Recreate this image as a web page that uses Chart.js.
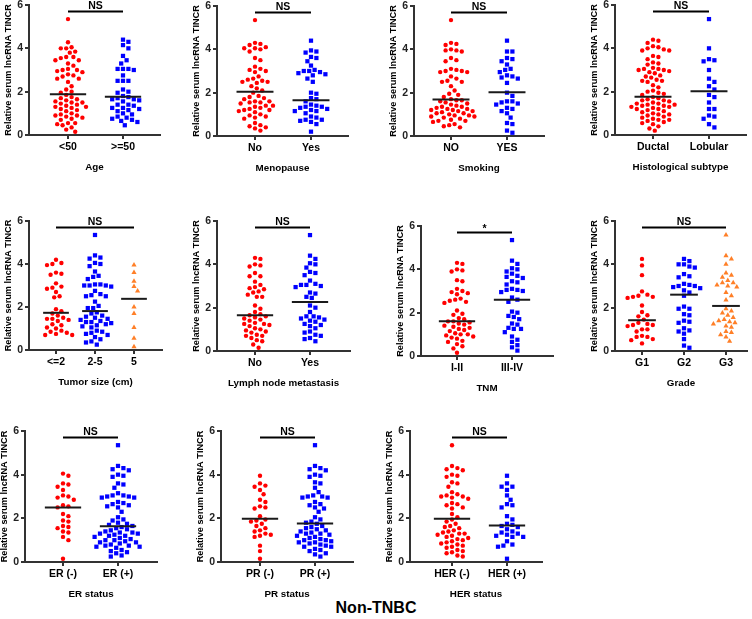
<!DOCTYPE html>
<html>
<head>
<meta charset="utf-8">
<script src="https://cdn.jsdelivr.net/npm/chart.js@4.4.0/dist/chart.umd.min.js"></script>
<style>
  html, body { margin: 0; padding: 0; background: #fff; }
  #wrap { position: relative; width: 752px; height: 619px; overflow: hidden; }
  #wrap canvas { position: absolute; }
  #title { position: absolute; left: 0; top: 599px; width: 752px; text-align: center;
           font: bold 16px "Liberation Sans", Arial, sans-serif; color: #000; }
</style>
</head>
<body>
<div id="wrap"><div id="title">Non-TNBC</div></div>
<script>
// ---- data ----
const yTicks = [0, 2, 4, 6];

const ageCats = ['<50', '>=50'];
const ageUnder50 = [5.35, 4.28, 4.05, 4.0, 4.0, 3.85, 3.8, 3.6, 3.6, 3.55, 3.45, 3.45, 3.3, 3.2, 3.05, 3.0, 3.0, 2.95, 2.9, 2.8, 2.75, 2.7, 2.6, 2.6, 2.45, 2.25, 2.1, 2.0, 1.95, 1.85, 1.75, 1.7, 1.65, 1.6, 1.55, 1.5, 1.5, 1.45, 1.4, 1.35, 1.3, 1.3, 1.25, 1.2, 1.15, 1.1, 1.0, 0.95, 0.9, 0.9, 0.85, 0.8, 0.75, 0.7, 0.55, 0.55, 0.5, 0.45, 0.35, 0.25, 0.15];
const ageOver50 = [4.4, 4.3, 4.15, 4.0, 3.65, 3.45, 3.3, 3.05, 3.05, 3.05, 3.0, 2.75, 2.5, 2.5, 2.5, 2.1, 2.0, 1.95, 1.8, 1.75, 1.7, 1.65, 1.65, 1.6, 1.55, 1.4, 1.4, 1.35, 1.25, 1.25, 1.2, 1.15, 1.1, 1.0, 0.95, 0.85, 0.8, 0.75, 0.7, 0.65, 0.6, 0.45];
const ageMeans = [1.88, 1.76];

const menoCats = ['No', 'Yes'];
const menoNo = [5.35, 4.3, 4.25, 4.2, 4.1, 4.05, 4.05, 4.0, 3.9, 3.6, 3.5, 3.2, 3.1, 3.05, 3.0, 2.95, 2.75, 2.65, 2.6, 2.55, 2.5, 2.5, 2.45, 2.3, 2.2, 2.1, 2.0, 1.85, 1.8, 1.75, 1.7, 1.6, 1.6, 1.55, 1.55, 1.5, 1.4, 1.4, 1.35, 1.3, 1.25, 1.2, 1.2, 1.15, 1.1, 1.0, 0.95, 0.9, 0.85, 0.8, 0.6, 0.5, 0.45, 0.4, 0.35, 0.25];
const menoYes = [4.4, 3.95, 3.9, 3.85, 3.65, 3.6, 3.45, 3.25, 3.05, 3.0, 3.0, 2.95, 2.9, 2.85, 2.8, 2.65, 2.5, 2.0, 1.95, 1.75, 1.7, 1.6, 1.45, 1.4, 1.35, 1.35, 1.3, 1.25, 1.2, 1.15, 1.15, 1.05, 0.9, 0.85, 0.75, 0.75, 0.7, 0.65, 0.55, 0.2];
const menoMeans = [2.04, 1.65];

const smokeCats = ['NO', 'YES'];
const smokeNo = [5.35, 4.3, 4.25, 4.2, 4.0, 3.95, 3.95, 3.9, 3.6, 3.5, 3.45, 3.1, 3.05, 3.0, 3.0, 2.95, 2.95, 2.75, 2.65, 2.55, 2.5, 2.5, 2.3, 2.1, 1.95, 1.9, 1.8, 1.7, 1.65, 1.65, 1.6, 1.55, 1.5, 1.45, 1.4, 1.35, 1.35, 1.3, 1.25, 1.25, 1.2, 1.2, 1.15, 1.15, 1.1, 1.05, 1.05, 1.0, 0.95, 0.95, 0.9, 0.9, 0.85, 0.8, 0.75, 0.7, 0.7, 0.65, 0.55, 0.5, 0.45, 0.4];
const smokeYes = [4.4, 3.9, 3.9, 3.6, 3.55, 3.45, 3.3, 3.1, 3.05, 2.95, 2.8, 2.75, 2.7, 2.65, 2.45, 2.0, 1.85, 1.6, 1.6, 1.55, 1.5, 1.45, 1.3, 1.25, 1.15, 1.05, 0.85, 0.6, 0.55, 0.25, 0.15];
const smokeMeans = [1.69, 2.02];

const histCats = ['Ductal', 'Lobular'];
const histDuctal = [4.4, 4.35, 4.25, 4.1, 4.05, 4.0, 3.95, 3.9, 3.9, 3.65, 3.6, 3.5, 3.35, 3.3, 3.25, 3.1, 3.05, 3.05, 3.0, 3.0, 2.95, 2.9, 2.85, 2.75, 2.7, 2.65, 2.55, 2.5, 2.5, 2.45, 2.3, 2.2, 2.05, 2.0, 1.95, 1.9, 1.85, 1.75, 1.7, 1.65, 1.6, 1.6, 1.55, 1.5, 1.45, 1.45, 1.4, 1.4, 1.35, 1.35, 1.3, 1.3, 1.25, 1.2, 1.2, 1.15, 1.1, 1.05, 1.0, 0.95, 0.95, 0.9, 0.85, 0.8, 0.75, 0.7, 0.7, 0.65, 0.6, 0.55, 0.5, 0.4, 0.3, 0.2];
const histLobular = [5.35, 4.0, 3.5, 3.45, 3.4, 3.0, 2.6, 2.45, 2.25, 2.1, 1.85, 1.75, 1.5, 1.2, 1.2, 0.9, 0.85, 0.75, 0.5, 0.35];
const histMeans = [1.77, 2.02];

const sizeCats = ['<=2', '2-5', '5'];
const sizeSmall = [4.2, 4.05, 4.0, 3.95, 3.6, 3.55, 3.5, 3.1, 2.95, 2.9, 2.85, 2.7, 2.5, 2.45, 1.9, 1.8, 1.7, 1.6, 1.5, 1.45, 1.45, 1.4, 1.35, 1.2, 1.15, 1.05, 1.0, 0.9, 0.85, 0.8, 0.75, 0.7, 0.7];
const sizeMid = [5.35, 4.4, 4.3, 4.25, 4.05, 4.0, 3.9, 3.65, 3.45, 3.4, 3.3, 3.05, 3.05, 3.0, 3.0, 3.0, 2.95, 2.75, 2.6, 2.55, 2.5, 2.5, 2.25, 2.05, 1.95, 1.95, 1.75, 1.7, 1.6, 1.55, 1.5, 1.45, 1.4, 1.35, 1.3, 1.3, 1.25, 1.2, 1.15, 1.1, 1.05, 0.9, 0.85, 0.8, 0.75, 0.7, 0.6, 0.5, 0.4, 0.35, 0.25];
const sizeLarge = [3.95, 3.6, 3.2, 2.95, 2.75, 2.0, 1.7, 1.05, 0.55, 0.15];
const sizeMeans = [1.73, 1.81, 2.38];

const lnmCats = ['No', 'Yes'];
const lnmNo = [4.3, 4.25, 4.0, 3.95, 3.9, 3.6, 3.45, 3.45, 3.2, 3.05, 2.95, 2.9, 2.85, 2.75, 2.7, 2.6, 2.5, 2.5, 2.1, 1.95, 1.8, 1.7, 1.65, 1.6, 1.55, 1.5, 1.45, 1.4, 1.3, 1.25, 1.25, 1.2, 1.15, 1.05, 1.0, 0.95, 0.9, 0.85, 0.75, 0.7, 0.7, 0.6, 0.5, 0.45, 0.3, 0.15];
const lnmYes = [5.35, 4.4, 4.25, 4.05, 4.0, 3.85, 3.65, 3.6, 3.5, 3.25, 3.1, 3.05, 3.05, 3.0, 2.95, 2.7, 2.65, 2.5, 2.45, 2.1, 2.0, 1.8, 1.6, 1.6, 1.55, 1.5, 1.45, 1.4, 1.35, 1.25, 1.2, 1.15, 1.05, 0.9, 0.85, 0.75, 0.7, 0.6, 0.55, 0.45];
const lnmMeans = [1.65, 2.26];

const tnmCats = ['I-II', 'III-IV'];
const tnmEarly = [4.3, 4.25, 4.0, 3.95, 3.9, 3.5, 3.45, 3.1, 3.0, 2.95, 2.9, 2.85, 2.65, 2.6, 2.55, 2.5, 2.45, 2.1, 1.95, 1.9, 1.75, 1.7, 1.6, 1.6, 1.55, 1.5, 1.45, 1.4, 1.35, 1.3, 1.25, 1.2, 1.15, 1.05, 1.0, 1.0, 0.95, 0.9, 0.85, 0.8, 0.7, 0.65, 0.55, 0.45, 0.35, 0.15];
const tnmLate = [5.35, 4.4, 4.25, 4.05, 4.0, 3.9, 3.8, 3.7, 3.65, 3.6, 3.45, 3.4, 3.3, 3.1, 3.05, 3.05, 3.0, 2.95, 2.7, 2.6, 2.5, 2.05, 2.0, 1.85, 1.8, 1.7, 1.5, 1.45, 1.3, 1.25, 1.25, 1.1, 0.9, 0.75, 0.65, 0.5, 0.4, 0.25];
const tnmMeans = [1.6, 2.6];

const gradeCats = ['G1', 'G2', 'G3'];
const gradeG1 = [4.25, 3.95, 3.5, 2.75, 2.6, 2.55, 2.5, 2.5, 2.45, 2.1, 1.8, 1.65, 1.6, 1.45, 1.3, 1.25, 1.2, 1.2, 1.15, 1.0, 1.0, 0.9, 0.7, 0.65, 0.65, 0.55, 0.5, 0.35];
const gradeG2 = [4.25, 4.15, 4.0, 4.0, 3.9, 3.85, 3.55, 3.45, 3.4, 3.1, 3.05, 3.0, 3.0, 2.95, 2.9, 2.8, 2.7, 2.55, 2.05, 1.95, 1.95, 1.7, 1.65, 1.4, 1.35, 1.3, 1.05, 0.95, 0.9, 0.8, 0.55, 0.25, 0.15];
const gradeG3 = [5.35, 4.4, 4.25, 4.0, 3.6, 3.5, 3.4, 3.25, 3.15, 3.15, 3.05, 3.0, 2.95, 2.7, 2.55, 2.35, 1.95, 1.85, 1.75, 1.65, 1.55, 1.45, 1.4, 1.35, 1.3, 1.25, 1.15, 1.1, 0.9, 0.85, 0.75, 0.65, 0.45];
const gradeMeans = [1.42, 2.6, 2.08];

const erCats = ['ER (-)', 'ER (+)'];
const erNeg = [4.05, 3.95, 3.6, 3.55, 3.45, 3.3, 3.05, 3.0, 2.95, 2.85, 2.6, 2.55, 2.5, 2.2, 2.1, 1.9, 1.85, 1.65, 1.6, 1.55, 1.4, 1.35, 1.15, 1.0, 0.15];
const erPos = [5.35, 4.4, 4.3, 4.25, 4.2, 4.0, 3.95, 3.9, 3.6, 3.55, 3.4, 3.15, 3.05, 3.05, 3.0, 3.0, 2.95, 2.95, 2.75, 2.7, 2.65, 2.6, 2.55, 2.5, 2.3, 2.05, 1.95, 1.9, 1.8, 1.75, 1.7, 1.65, 1.6, 1.55, 1.5, 1.45, 1.4, 1.35, 1.35, 1.3, 1.3, 1.25, 1.2, 1.2, 1.15, 1.1, 1.05, 1.0, 1.0, 0.95, 0.9, 0.9, 0.85, 0.8, 0.75, 0.75, 0.7, 0.7, 0.65, 0.55, 0.5, 0.45, 0.4, 0.3, 0.25];
const erMeans = [2.5, 1.64];

const prCats = ['PR (-)', 'PR (+)'];
const prNeg = [3.95, 3.6, 3.5, 3.45, 3.3, 3.1, 2.85, 2.75, 2.55, 2.5, 2.45, 2.1, 1.95, 1.9, 1.85, 1.75, 1.65, 1.55, 1.45, 1.4, 1.3, 1.25, 1.2, 1.15, 0.75, 0.5, 0.15];
const prPos = [5.35, 4.4, 4.3, 4.25, 4.2, 4.0, 3.95, 3.9, 3.65, 3.6, 3.4, 3.2, 3.05, 3.0, 3.0, 2.95, 2.95, 2.75, 2.65, 2.6, 2.5, 2.45, 2.3, 2.05, 1.95, 1.85, 1.8, 1.75, 1.65, 1.6, 1.55, 1.5, 1.45, 1.4, 1.35, 1.3, 1.3, 1.25, 1.2, 1.15, 1.1, 1.05, 1.0, 1.0, 0.95, 0.9, 0.9, 0.85, 0.8, 0.75, 0.7, 0.7, 0.6, 0.55, 0.5, 0.4, 0.35, 0.25];
const prMeans = [1.98, 1.76];

const herCats = ['HER (-)', 'HER (+)'];
const herNeg = [5.35, 4.4, 4.3, 4.25, 4.2, 4.0, 3.95, 3.9, 3.65, 3.6, 3.45, 3.2, 3.1, 3.05, 3.0, 3.0, 2.95, 2.9, 2.7, 2.65, 2.6, 2.5, 2.45, 2.2, 2.05, 1.95, 1.85, 1.75, 1.65, 1.6, 1.55, 1.45, 1.4, 1.35, 1.3, 1.3, 1.25, 1.2, 1.15, 1.1, 1.05, 1.0, 0.95, 0.9, 0.85, 0.8, 0.75, 0.7, 0.65, 0.55, 0.5, 0.45, 0.4, 0.3, 0.25];
const herPos = [3.95, 3.6, 3.45, 3.45, 3.3, 3.05, 2.85, 2.65, 2.6, 2.5, 2.1, 1.95, 1.75, 1.7, 1.65, 1.6, 1.5, 1.4, 1.35, 1.3, 1.25, 1.2, 1.15, 1.15, 0.95, 0.8, 0.75, 0.7, 0.15];
const herMeans = [1.98, 1.67];

// ---- look ----
const FONT = '"Liberation Sans", Arial, sans-serif';
const colors = ['#ff0000', '#0000ff', '#ff7f27'];
const shapes = ['circle', 'rect', 'triangle'];
const radii = [2.2, 3.0, 3.0];
const bracketY = 5.7;
const meanHalf = 0.33;

// [y-axis x, px of 6, px of 0, x-axis end, first category px, category spacing]
const panels = [
  { title: 'Age', cats: ageCats, groups: [ageUnder50, ageOver50], means: ageMeans, sig: 'NS', box: [29, 5, 135, 160, 68, 55] },
  { title: 'Menopause', cats: menoCats, groups: [menoNo, menoYes], means: menoMeans, sig: 'NS', box: [217, 6, 136, 348, 255, 56] },
  { title: 'Smoking', cats: smokeCats, groups: [smokeNo, smokeYes], means: smokeMeans, sig: 'NS', box: [414, 6, 136, 544, 451, 56] },
  { title: 'Histological subtype', cats: histCats, groups: [histDuctal, histLobular], means: histMeans, sig: 'NS', box: [615, 5, 135, 746, 653, 56] },
  { title: 'Tumor size (cm)', cats: sizeCats, groups: [sizeSmall, sizeMid, sizeLarge], means: sizeMeans, sig: 'NS', box: [29, 221, 350, 162, 56, 39] },
  { title: 'Lymph node metastasis', cats: lnmCats, groups: [lnmNo, lnmYes], means: lnmMeans, sig: 'NS', box: [217, 221, 351, 350, 255, 55] },
  { title: 'TNM', cats: tnmCats, groups: [tnmEarly, tnmLate], means: tnmMeans, sig: '*', box: [421, 226, 356, 553, 457, 55] },
  { title: 'Grade', cats: gradeCats, groups: [gradeG1, gradeG2, gradeG3], means: gradeMeans, sig: 'NS', box: [615, 221, 351, 747, 642, 42] },
  { title: 'ER status', cats: erCats, groups: [erNeg, erPos], means: erMeans, sig: 'NS', box: [25, 431, 562, 157, 63, 55] },
  { title: 'PR status', cats: prCats, groups: [prNeg, prPos], means: prMeans, sig: 'NS', box: [221, 431, 562, 353, 260, 55] },
  { title: 'HER status', cats: herCats, groups: [herNeg, herPos], means: herMeans, sig: 'NS', box: [410, 431, 562, 542, 452, 55] }
];

// spread points sideways so they don't overlap (beeswarm)
function swarm(values, pxY, pxX) {
  const d = 5.3, step = 1.8;
  const placed = [];
  const off = new Array(values.length).fill(0);
  const order = values.map((v, i) => i).sort((a, b) => values[b] - values[a]);
  order.forEach(i => {
    const y = values[i] * pxY;
    for (let k = 0; k < 200; k++) {
      const x = (k % 2 ? 1 : -1) * Math.ceil(k / 2) * step;
      if (placed.every(p => (p.x - x) ** 2 + (p.y - y) ** 2 >= d * d)) {
        placed.push({ x, y });
        off[i] = x / pxX;
        break;
      }
    }
  });
  return off;
}

// NS / * label above the bracket
const sigPlugin = {
  id: 'sig',
  afterDraw(chart, args, opts) {
    const { ctx, scales } = chart;
    const x = scales.x.getPixelForValue((1 + opts.n) / 2);
    const y = scales.y.getPixelForValue(bracketY);
    ctx.save();
    ctx.fillStyle = '#000';
    ctx.font = 'bold 10.5px ' + FONT;
    ctx.textAlign = 'center';
    ctx.textBaseline = 'alphabetic';
    ctx.fillText(opts.text, x, y - (opts.text === '*' ? 1 : 2.5));
    ctx.restore();
  }
};

const wrap = document.getElementById('wrap');
const YW = 26, PT = 14, XH = 38, PR = 4;

panels.forEach(p => {
  const [ax, yTop, yBot, xEnd, c1, sp] = p.box;
  const w = YW + (xEnd - ax) + PR, h = PT + (yBot - yTop) + XH;
  const cv = document.createElement('canvas');
  cv.width = w; cv.height = h;
  cv.style.left = (ax - YW) + 'px';
  cv.style.top = (yTop - PT) + 'px';
  cv.style.width = w + 'px';
  cv.style.height = h + 'px';
  wrap.appendChild(cv);

  const pxY = (yBot - yTop) / 6;
  const datasets = [];
  p.groups.forEach((vals, g) => {
    const off = swarm(vals, pxY, sp);
    datasets.push({
      type: 'scatter',
      data: vals.map((v, i) => ({ x: g + 1 + off[i], y: v })),
      pointStyle: shapes[g], pointRadius: radii[g],
      backgroundColor: colors[g], borderWidth: 0
    });
  });
  p.means.forEach((m, g) => {
    datasets.push({
      type: 'line', showLine: true, order: -1,
      data: [{ x: g + 1 - meanHalf, y: m }, { x: g + 1 + meanHalf, y: m }],
      borderColor: '#1a1a1a', borderWidth: 2, pointRadius: 0
    });
  });
  datasets.push({
    type: 'line', showLine: true, order: -1,
    data: [{ x: 1, y: bracketY }, { x: p.cats.length, y: bracketY }],
    borderColor: '#000', borderWidth: 2, pointRadius: 0
  });

  new Chart(cv, {
    type: 'scatter',
    data: { datasets },
    options: {
      responsive: false,
      animation: false,
      devicePixelRatio: 1,
      layout: { padding: { top: PT, right: PR, left: 0, bottom: 0 } },
      plugins: {
        legend: { display: false },
        tooltip: { enabled: false },
        sig: { text: p.sig, n: p.cats.length }
      },
      scales: {
        x: {
          type: 'linear',
          min: 1 - (c1 - ax) / sp,
          max: 1 + (xEnd - c1) / sp,
          afterBuildTicks: s => { s.ticks = p.cats.map((c, i) => ({ value: i + 1 })); },
          afterFit: s => { s.height = XH; },
          ticks: {
            callback: v => p.cats[Math.round(v) - 1],
            font: { family: FONT, size: 10.5, weight: 'bold' },
            color: '#000', padding: 2, maxRotation: 0, autoSkip: false
          },
          grid: { drawOnChartArea: false, tickLength: 4, color: '#333', lineWidth: 2 },
          border: { color: '#333', width: 2 },
          title: {
            display: true, text: p.title, color: '#000', padding: 0,
            font: { family: FONT, size: 9.8, weight: 'bold' }
          }
        },
        y: {
          min: 0, max: 6,
          afterBuildTicks: s => { s.ticks = yTicks.map(v => ({ value: v })); },
          afterFit: s => { s.width = YW; },
          ticks: {
            font: { family: FONT, size: 10.5, weight: 'bold' },
            color: '#222', padding: 2
          },
          grid: { drawOnChartArea: false, tickLength: 4, color: '#333', lineWidth: 2 },
          border: { color: '#333', width: 2 },
          title: {
            display: true, text: 'Relative serum lncRNA TINCR', color: '#000', padding: 0,
            font: { family: FONT, size: 9.2, weight: 'bold' }
          }
        }
      }
    },
    plugins: [sigPlugin]
  });
});
</script>
</body>
</html>
